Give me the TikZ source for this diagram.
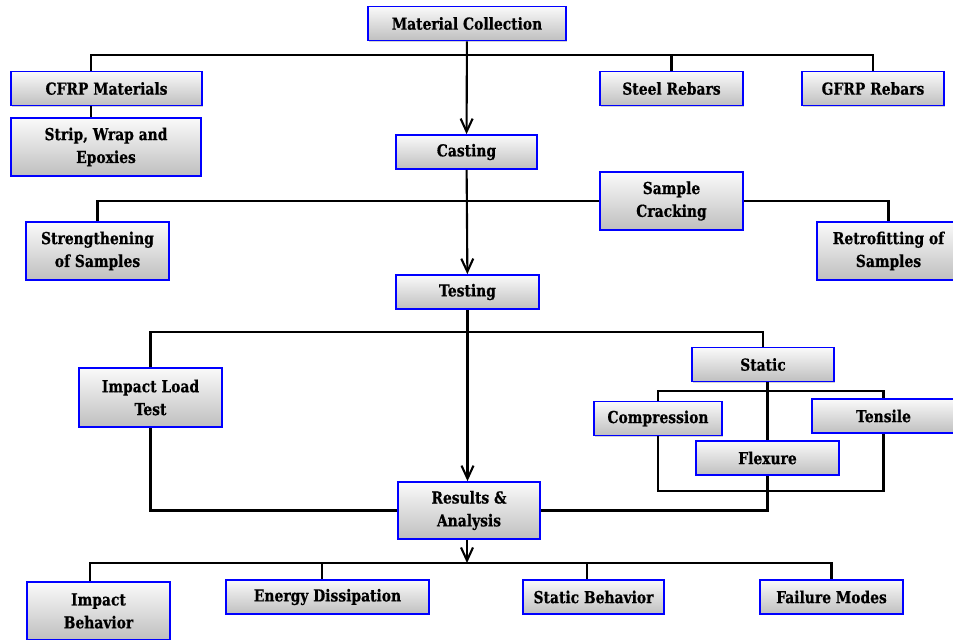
\documentclass[tikz,border=0pt]{standalone}
\usepackage{fontspec}
\setmainfont{DejaVu Serif}[FakeStretch=0.84, BoldFeatures={FakeBold=0.6}]
\usepackage{tikz}
\usetikzlibrary{arrows.meta,shadows}

\begin{document}
\begin{tikzpicture}[x=0.02cm, y=-0.02cm,
		box/.style={draw=blue, line width=1pt, top color=gray!4, bottom color=gray!50,
			drop shadow={shadow xshift=0.6pt, shadow yshift=-0.8pt, opacity=0.35},
			inner sep=0pt, align=center, minimum height=0.68cm,
			font=\fontsize{9.4}{13}\selectfont\bfseries},
		link/.style={line width=1.2pt},
		arr/.style={line width=1.2pt, -{Straight Barb[length=2.6mm, width=2.4mm]}}]
	\useasboundingbox (0,0) rectangle (953,639);
	\clip (0,0) rectangle (953,639);
	% Nodes
	\node[box, minimum width=3.96cm] (matcol) at (467,23.5) {Material Collection};
	\node[box, minimum width=3.82cm] (cfrp) at (106.5,88.5) {CFRP Materials};
	\node[box, minimum width=3.8cm, minimum height=1.16cm] (strip) at (106,147) {Strip, Wrap and\\Epoxies};
	\node[box, minimum width=2.86cm] (steel) at (671.5,88.5) {Steel Rebars};
	\node[box, minimum width=2.84cm] (gfrp) at (873,88.5) {GFRP Rebars};
	\node[box, minimum width=2.82cm] (casting) at (466.5,152) {Casting};
	\node[box, minimum width=2.86cm, minimum height=1.16cm] (crack) at (671.5,201) {Sample\\Cracking};
	\node[box, minimum width=2.86cm, minimum height=1.16cm] (strength) at (97.5,251) {Strengthening\\of Samples};
	\node[box, minimum width=2.86cm, minimum height=1.16cm] (retro) at (888.5,251) {Retrofitting of\\Samples};
	\node[box, minimum width=2.86cm] (testing) at (467.5,292) {Testing};
	\node[box, minimum width=2.86cm, minimum height=1.18cm] (impact) at (150.5,397.5) {Impact Load\\Test};
	\node[box, minimum width=2.84cm] (static) at (763,364.5) {Static};
	\node[box, minimum width=2.56cm] (compr) at (658,418.5) {Compression};
	\node[box, minimum width=2.86cm] (tensile) at (883.5,416) {Tensile};
	\node[box, minimum width=2.86cm] (flexure) at (767.5,458) {Flexure};
	\node[box, minimum width=2.84cm, minimum height=1.14cm] (results) at (469,510.5) {Results \&\\Analysis};
	\node[box, minimum width=2.86cm, minimum height=1.16cm] (impbeh) at (98.5,611) {Impact\\Behavior};
	\node[box, minimum width=4.06cm] (energy) at (327.5,597) {Energy Dissipation};
	\node[box, minimum width=2.82cm] (statbeh) at (593.5,597) {Static Behavior};
	\node[box, minimum width=2.86cm] (failure) at (831.5,597) {Failure Modes};
	% Links
	\coordinate (barA) at (467,55);
	\coordinate (barB) at (467,332);
	\coordinate (barC) at (767,391);
	\coordinate (barD) at (767,491);
	\coordinate (barE) at (467,563);
	\draw[arr] (matcol) -- (casting);
	\draw[arr] (casting) -- (testing);
	\draw[arr] (testing.south) -- (testing.south |- results.north);
	\draw[link] (91,0 |- cfrp.north) |- (barA) -| (gfrp.north);
	\draw[link] (steel.north) -- (steel.north |- barA);
	\draw[link] (91,0 |- cfrp.south) -- (91,0 |- strip.north);
	\draw[link] (strength.north) |- (crack.west);
	\draw[link] (crack.east) -| (retro.north);
	\draw[link] (impact.north) |- (barB) -| (static.north);
	\draw[link] (impact.south) |- (results.west);
	\draw[link] (flexure.north |- static.south) -- (flexure.north);
	\draw[link] (compr.north) |- (barC) -| (tensile.north);
	\draw[link] (compr.south) |- (barD) -| (tensile.south);
	\draw[link] (flexure.south) |- (results.east);
	\draw[arr] (results.south -| barE) -- (barE);
	\draw[link] (90,0 |- impbeh.north) |- (barE) -| (failure.north);
	\foreach \n/\x in {energy/322, statbeh/587} {
		\draw[link] (\x,0 |- \n.north) -- (\x,0 |- barE);
	}
\end{tikzpicture}
\end{document}
